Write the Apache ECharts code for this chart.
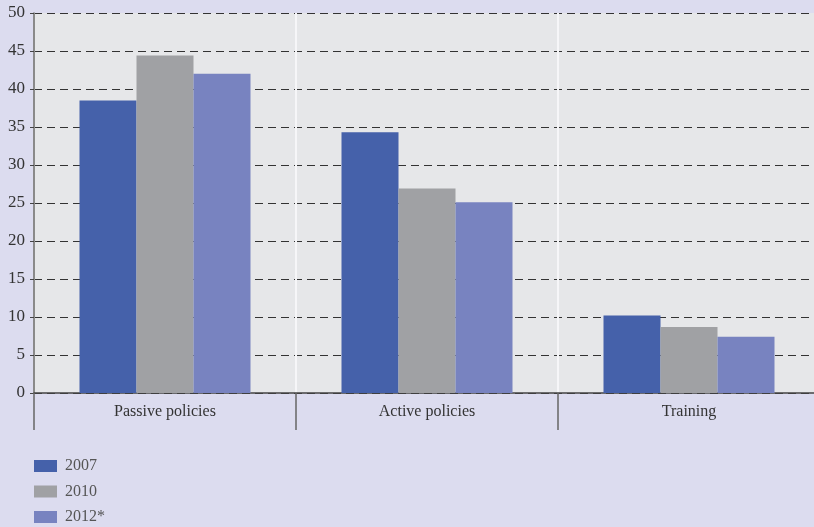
<!DOCTYPE html>
<html>
<head>
<meta charset="utf-8">
<script src="https://cdn.jsdelivr.net/npm/echarts@6/dist/echarts.min.js"></script>
<style>
  html, body { margin: 0; padding: 0; background: #dcdcef; }
  #chart { width: 814px; height: 527px; }
</style>
</head>
<body>
<div id="chart"></div>
<script>
// Spending categories and yearly shares (%)
const categories = ['Passive policies', 'Active policies', 'Training'];
const seriesNames = ['2007', '2010', '2012*'];
const values2007 = [38.5, 34.3, 10.2];
const values2010 = [44.4, 26.9, 8.7];
const values2012 = [42.0, 25.1, 7.4];
const yTicks = { min: 0, max: 50, interval: 5 };

const colors = ['#4561aa', '#a0a1a4', '#7883c0'];
const fontFamily = '"Liberation Serif", "DejaVu Serif", serif';

const chart = echarts.init(document.getElementById('chart'), null, { renderer: 'canvas' });

const seriesData = [values2007, values2010, values2012];

chart.setOption({
  backgroundColor: '#dcdcef',
  animation: false,
  textStyle: { fontFamily: fontFamily, color: '#333' },
  grid: {
    left: 34, top: 13, width: 786, height: 380,
    show: true, backgroundColor: '#e6e7e9', borderWidth: 0,
    containLabel: false,
    outerBoundsMode: 'none'
  },
  legend: {
    orient: 'vertical',
    left: 34, top: 457, height: 100,
    padding: 0,
    itemWidth: 23, itemHeight: 12, itemGap: 7.5,
    icon: 'rect',
    textStyle: { fontFamily: fontFamily, fontSize: 16, lineHeight: 18, color: '#555', padding: [0, 0, 0, 3] },
    data: seriesNames
  },
  xAxis: {
    type: 'category',
    data: categories,
    axisLine: { show: true, lineStyle: { color: '#444', width: 1.5 } },
    axisTick: { show: true, length: 37, lineStyle: { color: '#666', width: 1.5 } },
    axisLabel: { fontFamily: fontFamily, fontSize: 16, color: '#333', margin: 11 },
    splitLine: { show: true, lineStyle: { color: '#f6f6f8', width: 2 } }
  },
  yAxis: {
    type: 'value',
    min: yTicks.min, max: yTicks.max, interval: yTicks.interval,
    axisLine: { show: true, lineStyle: { color: '#666', width: 1.5 } },
    axisTick: { show: true, length: 4, lineStyle: { color: '#444' } },
    axisLabel: { fontFamily: fontFamily, fontSize: 17, color: '#333', margin: 9 },
    splitLine: { show: true, lineStyle: { color: '#333', type: [8, 5], width: 1 } }
  },
  series: seriesNames.map((name, i) => ({
    name: name,
    type: 'bar',
    data: seriesData[i],
    barWidth: 57,
    barGap: '0%',
    itemStyle: { color: colors[i] },
    z: 3
  }))
});
</script>
</body>
</html>
